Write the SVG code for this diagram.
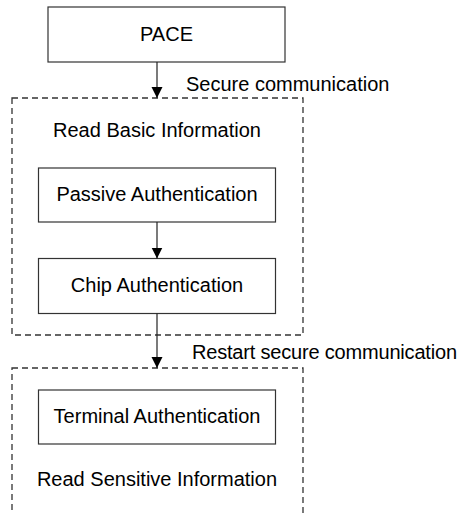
<svg xmlns="http://www.w3.org/2000/svg" width="468" height="514" viewBox="0 0 468 514">
<style>
.box{fill:#fff;stroke:#333;stroke-width:1.2}
.grp{fill:none;stroke:#333;stroke-width:1.3;stroke-dasharray:6 4}
.t{font-family:"Liberation Sans",Arial,sans-serif;font-size:20px;fill:#000}
.c{text-anchor:middle}
.ln{stroke:#222;stroke-width:1.2;fill:none}
</style>
<defs>
<marker id="ah" markerWidth="12" markerHeight="12" refX="11" refY="6" orient="auto" markerUnits="userSpaceOnUse">
<path d="M0,0.5 L11,6 L0,11.5 Z" fill="#000"/>
</marker>
</defs>
<rect width="468" height="514" fill="#fff"/>
<g id="group-basic">
<rect class="grp" x="12" y="98" width="291" height="237"/>
<text class="t c" x="157" y="137">Read Basic Information</text>
</g>
<g id="group-sensitive">
<rect class="grp" x="12" y="368" width="291" height="160"/>
<text class="t c" x="157" y="486">Read Sensitive Information</text>
</g>
<g id="pace">
<rect class="box" x="48" y="7" width="237" height="55"/>
<text class="t c" x="166.5" y="41">PACE</text>
</g>
<g id="passive">
<rect class="box" x="38.5" y="168" width="237" height="54"/>
<text class="t c" x="157" y="201">Passive Authentication</text>
</g>
<g id="chip">
<rect class="box" x="38.5" y="258.5" width="237" height="55"/>
<text class="t c" x="157" y="292">Chip Authentication</text>
</g>
<g id="terminal">
<rect class="box" x="38.5" y="390" width="237" height="54"/>
<text class="t c" x="157" y="423">Terminal Authentication</text>
</g>
<g id="connectors">
<line class="ln" x1="157" y1="62" x2="157" y2="98" marker-end="url(#ah)"/>
<line class="ln" x1="157" y1="222" x2="157" y2="258.5" marker-end="url(#ah)"/>
<line class="ln" x1="157" y1="313.5" x2="157" y2="368" marker-end="url(#ah)"/>
<text class="t" x="186" y="91">Secure communication</text>
<text class="t" x="192" y="359" textLength="265">Restart secure communication</text>
</g>
</svg>
